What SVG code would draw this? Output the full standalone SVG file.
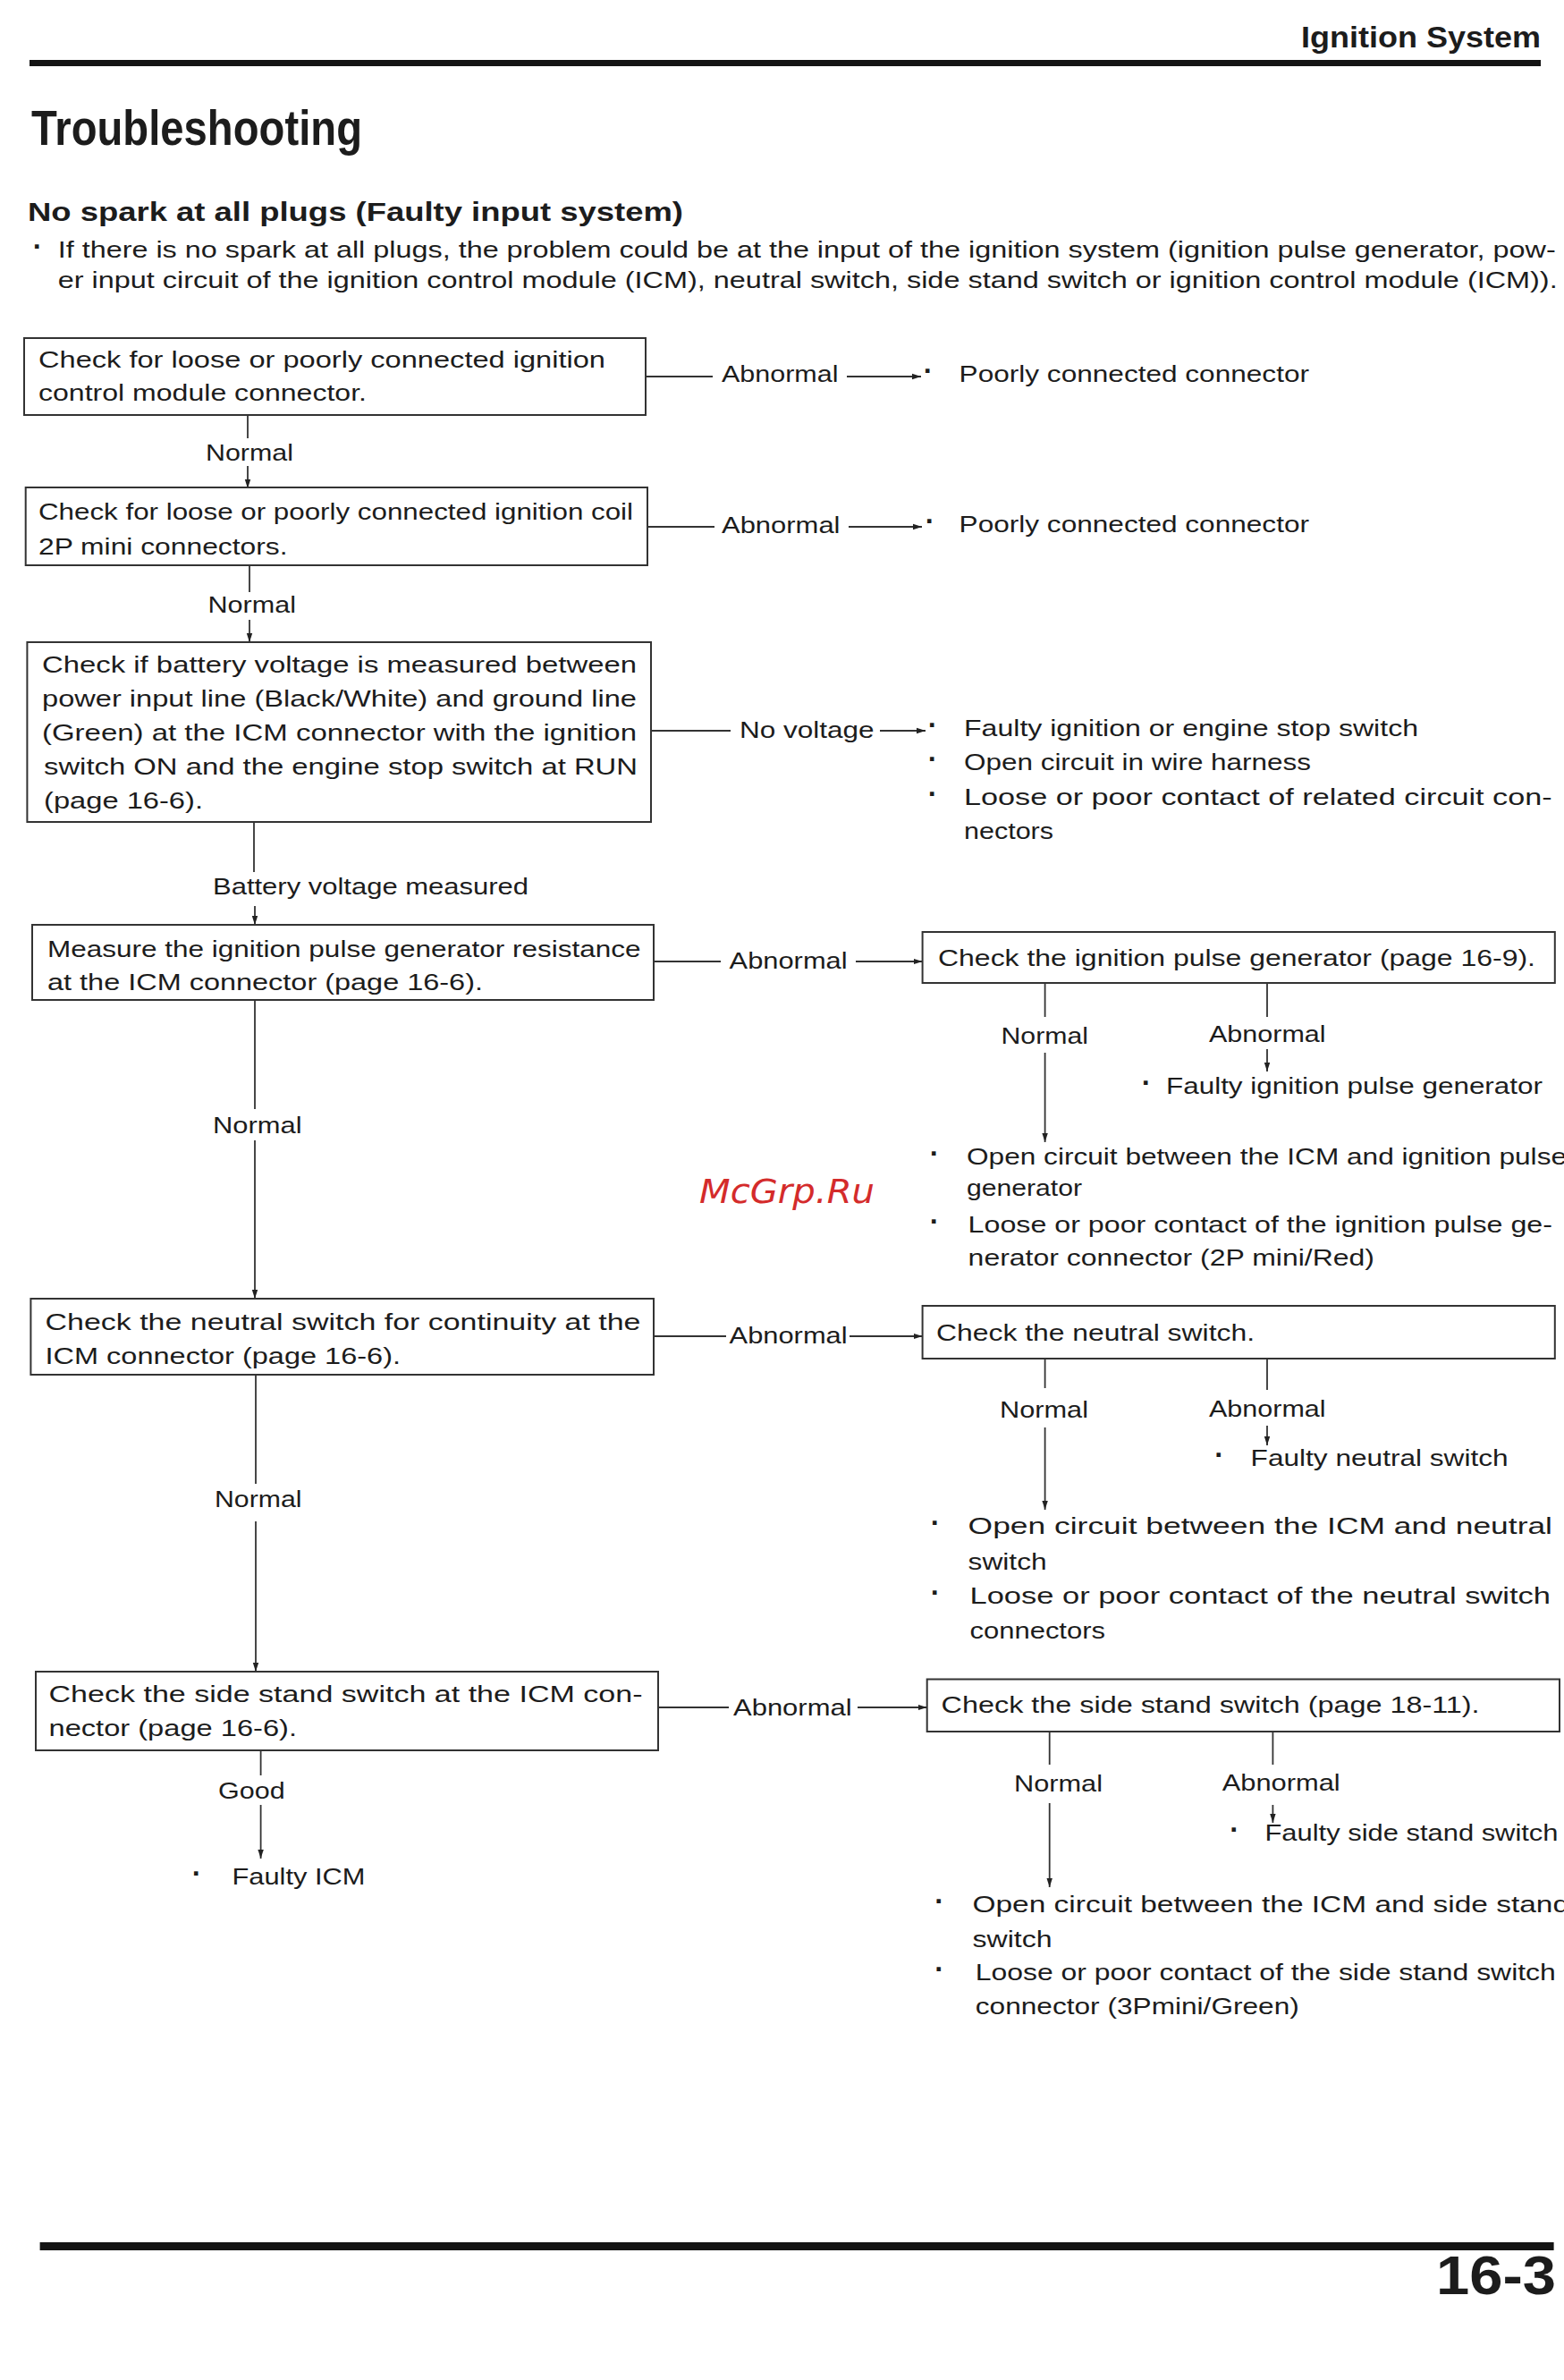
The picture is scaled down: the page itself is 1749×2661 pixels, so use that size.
<svg xmlns="http://www.w3.org/2000/svg" width="1749" height="2661" viewBox="0 0 1749 2661">
<style>
text{font-family:"Liberation Sans",Arial,sans-serif;fill:#1c1c1c}
.t{font-size:25px}
.b{font-size:32px;font-weight:bold}
.hd{font-weight:bold}
.box{fill:none;stroke:#333;stroke-width:2}
.c{stroke:#333;stroke-width:1.8;fill:none}
.a{stroke:#333;stroke-width:1.8;fill:none;marker-end:url(#ah)}
.wm{font-family:"DejaVu Sans",sans-serif;font-style:italic;font-size:38px;fill:#d42b2b}
</style>
<defs>
<marker id="ah" markerUnits="userSpaceOnUse" markerWidth="11" markerHeight="8" refX="10" refY="4" orient="auto">
<path d="M0,0.8 L10,4 L0,7.2 z" fill="#222"/>
</marker>
</defs>
<rect width="1749" height="2661" fill="#fff"/>

<g id="header">
<text class="hd" x="1455" y="53" font-size="33" textLength="268" lengthAdjust="spacingAndGlyphs">Ignition System</text>
<rect x="33" y="67" width="1690" height="7" fill="#141414"/>
<text class="hd" x="35" y="162" font-size="55" textLength="370" lengthAdjust="spacingAndGlyphs">Troubleshooting</text>
<text class="hd" x="31" y="247" font-size="30" textLength="733" lengthAdjust="spacingAndGlyphs">No spark at all plugs (Faulty input system)</text>
<text class="b" x="42" y="286" text-anchor="middle">·</text>
<text class="t" x="64.7" y="288" font-size="24" textLength="1675" lengthAdjust="spacingAndGlyphs">If there is no spark at all plugs, the problem could be at the input of the ignition system (ignition pulse generator, pow-</text>
<text class="t" x="64.7" y="322" font-size="24" textLength="1677" lengthAdjust="spacingAndGlyphs">er input circuit of the ignition control module (ICM), neutral switch, side stand switch or ignition control module (ICM)).</text>
</g>

<g id="connectors">
<line class="c" x1="277" y1="464" x2="277" y2="490"/>
<line class="a" x1="277" y1="521" x2="277" y2="546"/>
<line class="c" x1="279" y1="632" x2="279" y2="662"/>
<line class="a" x1="279" y1="693" x2="279" y2="718"/>
<line class="c" x1="284" y1="919" x2="284" y2="975"/>
<line class="a" x1="285" y1="1013" x2="285" y2="1034"/>
<line class="c" x1="285" y1="1118" x2="285" y2="1240"/>
<line class="a" x1="285" y1="1275" x2="285" y2="1452"/>
<line class="c" x1="286" y1="1537" x2="286" y2="1659"/>
<line class="a" x1="286" y1="1701" x2="286" y2="1869"/>
<line class="c" x1="291.6" y1="1957" x2="291.6" y2="1985"/>
<line class="a" x1="291.6" y1="2018" x2="291.6" y2="2078"/>

<line class="c" x1="722" y1="421" x2="797" y2="421"/>
<line class="a" x1="947" y1="421" x2="1030" y2="421"/>
<line class="c" x1="724" y1="589" x2="799" y2="589"/>
<line class="a" x1="949" y1="589" x2="1031" y2="589"/>
<line class="c" x1="728" y1="817" x2="817" y2="817"/>
<line class="a" x1="984" y1="817" x2="1035" y2="817"/>
<line class="c" x1="731" y1="1075" x2="806" y2="1075"/>
<line class="a" x1="957" y1="1075" x2="1031.6" y2="1075"/>
<line class="c" x1="731" y1="1494" x2="812" y2="1494"/>
<line class="a" x1="950" y1="1494" x2="1031.6" y2="1494"/>
<line class="c" x1="736" y1="1909" x2="815" y2="1909"/>
<line class="a" x1="959" y1="1909" x2="1036.7" y2="1909"/>

<line class="c" x1="1168.6" y1="1099" x2="1168.6" y2="1137"/>
<line class="a" x1="1168.6" y1="1177" x2="1168.6" y2="1277"/>
<line class="c" x1="1417" y1="1099" x2="1417" y2="1137"/>
<line class="a" x1="1417" y1="1173" x2="1417" y2="1198"/>
<line class="c" x1="1168.6" y1="1519" x2="1168.6" y2="1552"/>
<line class="a" x1="1168.6" y1="1596" x2="1168.6" y2="1688"/>
<line class="c" x1="1417" y1="1519" x2="1417" y2="1554"/>
<line class="a" x1="1417" y1="1594" x2="1417" y2="1616"/>
<line class="c" x1="1173.7" y1="1936" x2="1173.7" y2="1973"/>
<line class="a" x1="1173.7" y1="2016" x2="1173.7" y2="2110"/>
<line class="c" x1="1423.4" y1="1936" x2="1423.4" y2="1973"/>
<line class="a" x1="1423.4" y1="2018" x2="1423.4" y2="2038"/>

<text class="t" x="230" y="515" textLength="98" lengthAdjust="spacingAndGlyphs">Normal</text>
<text class="t" x="232.5" y="685" textLength="98.5" lengthAdjust="spacingAndGlyphs">Normal</text>
<text class="t" x="238" y="1000" textLength="353" lengthAdjust="spacingAndGlyphs">Battery voltage measured</text>
<text class="t" x="238" y="1267" textLength="99.5" lengthAdjust="spacingAndGlyphs">Normal</text>
<text class="t" x="240" y="1685" textLength="97.5" lengthAdjust="spacingAndGlyphs">Normal</text>
<text class="t" x="244" y="2011" textLength="74.6" lengthAdjust="spacingAndGlyphs">Good</text>

<text class="t" x="807" y="427" textLength="130.5" lengthAdjust="spacingAndGlyphs">Abnormal</text>
<text class="t" x="807" y="596" textLength="132.5" lengthAdjust="spacingAndGlyphs">Abnormal</text>
<text class="t" x="827" y="825" textLength="150.6" lengthAdjust="spacingAndGlyphs">No voltage</text>
<text class="t" x="815.6" y="1083" textLength="132" lengthAdjust="spacingAndGlyphs">Abnormal</text>
<text class="t" x="815.6" y="1502" textLength="132" lengthAdjust="spacingAndGlyphs">Abnormal</text>
<text class="t" x="820" y="1918" textLength="132.6" lengthAdjust="spacingAndGlyphs">Abnormal</text>

<text class="t" x="1119.5" y="1167" textLength="97.5" lengthAdjust="spacingAndGlyphs">Normal</text>
<text class="t" x="1352" y="1165" textLength="130.6" lengthAdjust="spacingAndGlyphs">Abnormal</text>
<text class="t" x="1118" y="1585" textLength="99" lengthAdjust="spacingAndGlyphs">Normal</text>
<text class="t" x="1352" y="1584" textLength="130.6" lengthAdjust="spacingAndGlyphs">Abnormal</text>
<text class="t" x="1134" y="2003" textLength="99" lengthAdjust="spacingAndGlyphs">Normal</text>
<text class="t" x="1366.7" y="2002" textLength="132" lengthAdjust="spacingAndGlyphs">Abnormal</text>
</g>

<g id="n1">
<rect class="box" x="27" y="378" width="695" height="86"/>
<text class="t" x="43" y="411" textLength="634" lengthAdjust="spacingAndGlyphs">Check for loose or poorly connected ignition</text>
<text class="t" x="43" y="448" textLength="367" lengthAdjust="spacingAndGlyphs">control module connector.</text>
</g>
<g id="n2">
<rect class="box" x="28.7" y="545" width="695.3" height="87"/>
<text class="t" x="43" y="581" textLength="665" lengthAdjust="spacingAndGlyphs">Check for loose or poorly connected ignition coil</text>
<text class="t" x="43" y="619.5" textLength="278.5" lengthAdjust="spacingAndGlyphs">2P mini connectors.</text>
</g>
<g id="n3">
<rect class="box" x="30.4" y="718" width="697.6" height="201"/>
<text class="t" x="47" y="752" textLength="665" lengthAdjust="spacingAndGlyphs">Check if battery voltage is measured between</text>
<text class="t" x="47" y="790" textLength="665" lengthAdjust="spacingAndGlyphs">power input line (Black/White) and ground line</text>
<text class="t" x="47" y="828" textLength="665" lengthAdjust="spacingAndGlyphs">(Green) at the ICM connector with the ignition</text>
<text class="t" x="49" y="866" textLength="664" lengthAdjust="spacingAndGlyphs">switch ON and the engine stop switch at RUN</text>
<text class="t" x="49" y="904" textLength="178" lengthAdjust="spacingAndGlyphs">(page 16-6).</text>
</g>
<g id="n4">
<rect class="box" x="36" y="1034" width="695" height="84"/>
<text class="t" x="53" y="1070" textLength="663.5" lengthAdjust="spacingAndGlyphs">Measure the ignition pulse generator resistance</text>
<text class="t" x="53" y="1107" textLength="487" lengthAdjust="spacingAndGlyphs">at the ICM connector (page 16-6).</text>
</g>
<g id="n5">
<rect class="box" x="34.4" y="1452" width="696.6" height="85"/>
<text class="t" x="50.5" y="1487" textLength="666" lengthAdjust="spacingAndGlyphs">Check the neutral switch for continuity at the</text>
<text class="t" x="50.5" y="1525" textLength="397.5" lengthAdjust="spacingAndGlyphs">ICM connector (page 16-6).</text>
</g>
<g id="n6">
<rect class="box" x="40" y="1869" width="696" height="88"/>
<text class="t" x="54.5" y="1903" textLength="664" lengthAdjust="spacingAndGlyphs">Check the side stand switch at the ICM con-</text>
<text class="t" x="54.5" y="1941" textLength="277.5" lengthAdjust="spacingAndGlyphs">nector (page 16-6).</text>
</g>
<g id="n6-good">
<text class="b" x="220" y="2105" text-anchor="middle">·</text>
<text class="t" x="259.5" y="2107" textLength="149" lengthAdjust="spacingAndGlyphs">Faulty ICM</text>
</g>

<g id="r1">
<text class="b" x="1038" y="425" text-anchor="middle">·</text>
<text class="t" x="1072.6" y="427" textLength="391.4" lengthAdjust="spacingAndGlyphs">Poorly connected connector</text>
</g>
<g id="r2">
<text class="b" x="1040" y="593" text-anchor="middle">·</text>
<text class="t" x="1072.6" y="595" textLength="391.4" lengthAdjust="spacingAndGlyphs">Poorly connected connector</text>
</g>
<g id="r3">
<text class="b" x="1043" y="821" text-anchor="middle">·</text>
<text class="t" x="1078" y="823" textLength="508" lengthAdjust="spacingAndGlyphs">Faulty ignition or engine stop switch</text>
<text class="b" x="1043" y="859" text-anchor="middle">·</text>
<text class="t" x="1078" y="861" textLength="388" lengthAdjust="spacingAndGlyphs">Open circuit in wire harness</text>
<text class="b" x="1043" y="898" text-anchor="middle">·</text>
<text class="t" x="1078" y="900" textLength="657.6" lengthAdjust="spacingAndGlyphs">Loose or poor contact of related circuit con-</text>
<text class="t" x="1078" y="938" textLength="100" lengthAdjust="spacingAndGlyphs">nectors</text>
</g>

<g id="n4r">
<rect class="box" x="1031.6" y="1042" width="707.2" height="57"/>
<text class="t" x="1049" y="1080" textLength="668" lengthAdjust="spacingAndGlyphs">Check the ignition pulse generator (page 16-9).</text>
</g>
<g id="n4r-abn">
<text class="b" x="1282" y="1221" text-anchor="middle">·</text>
<text class="t" x="1304" y="1223" textLength="421" lengthAdjust="spacingAndGlyphs">Faulty ignition pulse generator</text>
</g>
<g id="n4r-nor">
<text class="b" x="1045" y="1300" text-anchor="middle">·</text>
<text class="t" x="1081" y="1302" textLength="671" lengthAdjust="spacingAndGlyphs">Open circuit between the ICM and ignition pulse</text>
<text class="t" x="1081" y="1337" textLength="129" lengthAdjust="spacingAndGlyphs">generator</text>
<text class="b" x="1045" y="1376" text-anchor="middle">·</text>
<text class="t" x="1082.6" y="1378" textLength="653.4" lengthAdjust="spacingAndGlyphs">Loose or poor contact of the ignition pulse ge-</text>
<text class="t" x="1082.6" y="1415" textLength="454.4" lengthAdjust="spacingAndGlyphs">nerator connector (2P mini/Red)</text>
</g>

<g id="n5r">
<rect class="box" x="1031.6" y="1460" width="707.2" height="59"/>
<text class="t" x="1047" y="1499" textLength="356" lengthAdjust="spacingAndGlyphs">Check the neutral switch.</text>
</g>
<g id="n5r-abn">
<text class="b" x="1363.5" y="1637" text-anchor="middle">·</text>
<text class="t" x="1398.6" y="1639" textLength="288" lengthAdjust="spacingAndGlyphs">Faulty neutral switch</text>
</g>
<g id="n5r-nor">
<text class="b" x="1046" y="1713" text-anchor="middle">·</text>
<text class="t" x="1082.6" y="1715" textLength="653.4" lengthAdjust="spacingAndGlyphs">Open circuit between the ICM and neutral</text>
<text class="t" x="1082.6" y="1755" textLength="88" lengthAdjust="spacingAndGlyphs">switch</text>
<text class="b" x="1046" y="1791" text-anchor="middle">·</text>
<text class="t" x="1084.5" y="1793" textLength="649.5" lengthAdjust="spacingAndGlyphs">Loose or poor contact of the neutral switch</text>
<text class="t" x="1084.5" y="1832" textLength="151.5" lengthAdjust="spacingAndGlyphs">connectors</text>
</g>

<g id="n6r">
<rect class="box" x="1036.7" y="1877.5" width="707.3" height="58.5"/>
<text class="t" x="1052.6" y="1915" textLength="602" lengthAdjust="spacingAndGlyphs">Check the side stand switch (page 18-11).</text>
</g>
<g id="n6r-abn">
<text class="b" x="1380.7" y="2056" text-anchor="middle">·</text>
<text class="t" x="1414.5" y="2058" textLength="328" lengthAdjust="spacingAndGlyphs">Faulty side stand switch</text>
</g>
<g id="n6r-nor">
<text class="b" x="1050.6" y="2136" text-anchor="middle">·</text>
<text class="t" x="1087.5" y="2138" textLength="667.5" lengthAdjust="spacingAndGlyphs">Open circuit between the ICM and side stand</text>
<text class="t" x="1087.5" y="2177" textLength="89" lengthAdjust="spacingAndGlyphs">switch</text>
<text class="b" x="1050.6" y="2212" text-anchor="middle">·</text>
<text class="t" x="1090.8" y="2214" textLength="649" lengthAdjust="spacingAndGlyphs">Loose or poor contact of the side stand switch</text>
<text class="t" x="1090.8" y="2252" textLength="362" lengthAdjust="spacingAndGlyphs">connector (3Pmini/Green)</text>
</g>

<g id="watermark">
<text class="wm" x="782" y="1345" textLength="196" lengthAdjust="spacingAndGlyphs">McGrp.Ru</text>
</g>

<g id="footer">
<rect x="44.6" y="2507" width="1693" height="9" fill="#141414"/>
<text class="hd" x="1606" y="2565" font-size="62" textLength="134" lengthAdjust="spacingAndGlyphs">16-3</text>
</g>
</svg>
